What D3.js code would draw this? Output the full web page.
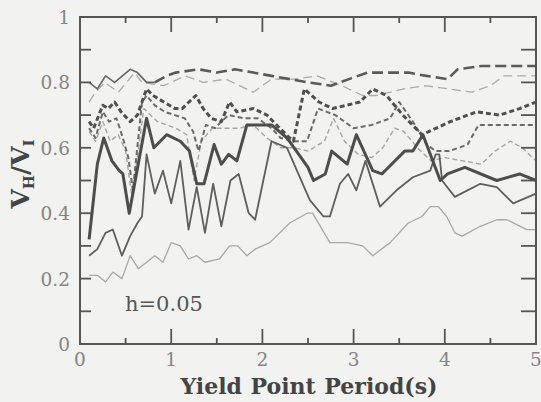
<!DOCTYPE html>
<html>
<head>
<meta charset="utf-8">
<script src="https://cdn.jsdelivr.net/npm/d3@7"></script>
<style>
  html, body { margin: 0; padding: 0; background: #f2f2f1; }
  svg { display: block; }
  svg text { font-family: 'DejaVu Serif', 'Liberation Serif', 'Times New Roman', serif; }
</style>
</head>
<body>
<svg id="chart" width="541" height="402"></svg>
<script>
// [period (s), VH/VI]
var thickSolid = [[0.1,0.32],[0.19,0.55],[0.26,0.63],[0.35,0.56],[0.43,0.53],[0.47,0.52],[0.54,0.40],[0.73,0.69],[0.81,0.60],[0.95,0.64],[1.1,0.62],[1.2,0.59],[1.28,0.49],[1.36,0.49],[1.47,0.61],[1.55,0.55],[1.63,0.58],[1.72,0.56],[1.83,0.67],[2.1,0.67],[2.27,0.63],[2.5,0.54],[2.56,0.50],[2.69,0.52],[2.76,0.59],[2.93,0.55],[3.03,0.64],[3.21,0.53],[3.31,0.52],[3.56,0.59],[3.65,0.59],[3.76,0.64],[3.95,0.50],[4.03,0.52],[4.22,0.54],[4.57,0.50],[4.82,0.52],[5.0,0.50]];
var thinSolid = [[0.1,0.27],[0.19,0.29],[0.28,0.34],[0.36,0.35],[0.46,0.27],[0.55,0.33],[0.63,0.37],[0.68,0.39],[0.73,0.58],[0.82,0.46],[0.91,0.53],[1.0,0.43],[1.1,0.56],[1.19,0.35],[1.28,0.48],[1.37,0.34],[1.46,0.49],[1.55,0.36],[1.65,0.50],[1.74,0.52],[1.85,0.40],[1.92,0.38],[2.1,0.62],[2.27,0.60],[2.52,0.44],[2.67,0.39],[2.74,0.39],[2.85,0.49],[2.94,0.52],[3.03,0.47],[3.13,0.56],[3.29,0.42],[3.47,0.47],[3.65,0.51],[3.84,0.53],[3.9,0.58],[3.94,0.58],[3.97,0.50],[4.11,0.45],[4.39,0.49],[4.57,0.48],[4.75,0.43],[5.0,0.46]];
var lightSolid = [[0.1,0.21],[0.19,0.21],[0.28,0.19],[0.36,0.22],[0.46,0.20],[0.55,0.27],[0.64,0.23],[0.73,0.25],[0.82,0.27],[0.91,0.25],[1.0,0.31],[1.1,0.30],[1.19,0.26],[1.28,0.27],[1.37,0.25],[1.53,0.26],[1.64,0.30],[1.73,0.30],[1.83,0.27],[1.92,0.29],[2.08,0.31],[2.3,0.37],[2.49,0.40],[2.55,0.40],[2.74,0.31],[2.93,0.31],[3.1,0.30],[3.21,0.27],[3.4,0.31],[3.6,0.37],[3.75,0.39],[3.84,0.42],[3.93,0.42],[4.02,0.39],[4.11,0.34],[4.19,0.33],[4.39,0.36],[4.57,0.38],[4.68,0.38],[4.9,0.35],[5.0,0.35]];
var topThin = [[0.1,0.80],[0.19,0.78],[0.28,0.82],[0.38,0.80],[0.55,0.84],[0.63,0.83],[0.73,0.80],[0.82,0.80]];
var thickLongDash = [[0.82,0.80],[0.95,0.82],[1.05,0.83],[1.3,0.84],[1.5,0.83],[1.7,0.84],[1.9,0.83],[2.1,0.82],[2.3,0.81],[2.5,0.80],[2.75,0.79],[2.95,0.81],[3.15,0.83],[3.4,0.83],[3.6,0.83],[3.8,0.82],[4.03,0.81],[4.14,0.84],[4.4,0.85],[5.0,0.85]];
var lightLongDash = [[0.1,0.74],[0.17,0.77],[0.27,0.80],[0.42,0.77],[0.6,0.83],[0.68,0.80],[0.92,0.79],[1.15,0.82],[1.35,0.80],[1.6,0.81],[1.9,0.77],[2.1,0.81],[2.35,0.81],[2.6,0.82],[2.87,0.79],[3.1,0.76],[3.25,0.76],[3.55,0.78],[3.78,0.79],[4.05,0.78],[4.3,0.77],[4.5,0.79],[4.65,0.82],[5.0,0.82]];
var thickShortDash = [[0.1,0.68],[0.15,0.66],[0.25,0.73],[0.31,0.72],[0.38,0.74],[0.45,0.71],[0.55,0.68],[0.63,0.70],[0.73,0.78],[0.8,0.76],[1.04,0.72],[1.12,0.72],[1.27,0.76],[1.35,0.72],[1.44,0.69],[1.55,0.68],[1.64,0.74],[1.72,0.71],[1.9,0.72],[2.05,0.70],[2.19,0.66],[2.3,0.63],[2.34,0.62],[2.46,0.78],[2.62,0.74],[2.77,0.72],[3.07,0.74],[3.21,0.78],[3.36,0.76],[3.54,0.70],[3.75,0.64],[4.06,0.68],[4.35,0.71],[4.6,0.70],[4.82,0.72],[5.0,0.74]];
var midShortDash = [[0.1,0.66],[0.17,0.63],[0.25,0.71],[0.32,0.68],[0.4,0.69],[0.47,0.63],[0.53,0.57],[0.58,0.47],[0.68,0.74],[0.73,0.76],[0.82,0.73],[0.93,0.71],[1.15,0.69],[1.24,0.65],[1.3,0.59],[1.38,0.67],[1.48,0.66],[1.55,0.68],[1.63,0.70],[1.8,0.69],[1.95,0.69],[2.1,0.66],[2.2,0.63],[2.35,0.62],[2.49,0.62],[2.61,0.72],[2.8,0.70],[3.0,0.66],[3.2,0.67],[3.4,0.69],[3.5,0.74],[3.65,0.68],[3.8,0.61],[3.9,0.59],[4.05,0.59],[4.25,0.61],[4.37,0.67],[4.6,0.67],[5.0,0.67]];
var lightShortDash = [[0.1,0.65],[0.17,0.62],[0.25,0.68],[0.33,0.62],[0.42,0.64],[0.5,0.59],[0.57,0.45],[0.7,0.72],[0.85,0.68],[1.05,0.66],[1.17,0.64],[1.25,0.50],[1.33,0.62],[1.45,0.66],[1.6,0.66],[1.75,0.66],[1.9,0.67],[2.05,0.63],[2.2,0.60],[2.35,0.60],[2.5,0.59],[2.68,0.62],[2.78,0.69],[2.9,0.62],[3.05,0.58],[3.2,0.57],[3.32,0.60],[3.45,0.66],[3.55,0.65],[3.7,0.60],[3.85,0.56],[4.0,0.57],[4.2,0.56],[4.4,0.55],[4.55,0.59],[4.72,0.62],[4.85,0.60],[5.0,0.56]];

var xMajor = [0, 1, 2, 3, 4, 5];
var xMinor = [0.5, 1.5, 2.5, 3.5, 4.5];
var yTickLabels = ['0', '0.2', '0.4', '0.6', '0.8', '1'];
var yTicks = [0.1, 0.2, 0.3, 0.4, 0.5, 0.6, 0.7, 0.8, 0.9];

var seriesList = [
    { data: lightSolid, color: '#a8a8a8', width: 1.3, dash: null },
    { data: lightLongDash, color: '#ababab', width: 1.3, dash: '9,5' },
    { data: lightShortDash, color: '#a6a6a6', width: 1.4, dash: '5,3' },
    { data: thinSolid, color: '#5e5e5e', width: 1.8, dash: null },
    { data: topThin, color: '#666', width: 1.6, dash: null },
    { data: midShortDash, color: '#6a6a6a', width: 2, dash: '5,3' },
    { data: thickLongDash, color: '#5a5a5a', width: 2.6, dash: '11,5' },
    { data: thickShortDash, color: '#4f4f4f', width: 3, dash: '5,3' },
    { data: thickSolid, color: '#4d4d4d', width: 3, dash: null }
];

var margin = { left: 80, top: 17, right: 5, bottom: 58 };
var width = 541, height = 402;
var svg = d3.select('#chart');

var x = d3.scaleLinear().domain([0, 5]).range([margin.left, width - margin.right]);
var y = d3.scaleLinear().domain([0, 1]).range([height - margin.bottom, margin.top]);

var line = d3.line()
    .x(function(d) { return x(d[0]); })
    .y(function(d) { return y(d[1]); });

var plot = svg.append('g');
seriesList.forEach(function(s) {
    plot.append('path')
        .datum(s.data)
        .attr('d', line)
        .attr('fill', 'none')
        .attr('stroke', s.color)
        .attr('stroke-width', s.width)
        .attr('stroke-linejoin', 'round')
        .attr('stroke-dasharray', s.dash);
});

// frame + inward ticks
var axisColor = '#555';
svg.append('rect')
    .attr('x', x(0)).attr('y', y(1))
    .attr('width', x(5) - x(0)).attr('height', y(0) - y(1))
    .attr('fill', 'none').attr('stroke', axisColor).attr('stroke-width', 2);

var ticks = svg.append('g').attr('stroke', axisColor).attr('stroke-width', 1.8);
function xTicks(vals, len) {
    vals.forEach(function(v) {
        ticks.append('line').attr('x1', x(v)).attr('x2', x(v)).attr('y1', y(0)).attr('y2', y(0) - len);
        ticks.append('line').attr('x1', x(v)).attr('x2', x(v)).attr('y1', y(1)).attr('y2', y(1) + len);
    });
}
xTicks(xMajor.slice(1, 5), 15);
xTicks(xMinor, 6);
yTicks.forEach(function(v) {
    ticks.append('line').attr('x1', x(0)).attr('x2', x(0) + 11).attr('y1', y(v)).attr('y2', y(v));
    ticks.append('line').attr('x1', x(5)).attr('x2', x(5) - 15).attr('y1', y(v)).attr('y2', y(v));
});

// tick labels
var labelColor = '#858585';
svg.append('g').selectAll('text')
    .data(xMajor)
    .enter().append('text')
    .attr('x', function(d) { return x(d); })
    .attr('y', y(0) + 22)
    .attr('text-anchor', 'middle')
    .attr('font-size', 18.5)
    .attr('fill', labelColor)
    .text(function(d) { return d; });

svg.append('g').selectAll('text')
    .data(yTickLabels)
    .enter().append('text')
    .attr('x', x(0) - 10)
    .attr('y', function(d) { return y(+d) + 7; })
    .attr('text-anchor', 'end')
    .attr('font-size', 18.5)
    .attr('fill', labelColor)
    .text(function(d) { return d; });

// axis titles
svg.append('text')
    .attr('x', 309).attr('y', 394)
    .attr('text-anchor', 'middle')
    .attr('font-size', 22).attr('font-weight', 'bold')
    .attr('word-spacing', 1)
    .attr('fill', '#444')
    .text('Yield Point Period(s)');

var yTitle = svg.append('text')
    .attr('transform', 'translate(29,' + 174 + ') rotate(-90)')
    .attr('text-anchor', 'middle')
    .attr('font-size', 25).attr('font-weight', 'bold')
    .attr('fill', '#444');
yTitle.append('tspan').text('V');
yTitle.append('tspan').attr('font-size', 15).attr('dy', 5).text('H');
yTitle.append('tspan').attr('dy', -5).text('/V');
yTitle.append('tspan').attr('font-size', 15).attr('dy', 5).text('I');

svg.append('text')
    .attr('x', 125).attr('y', 311)
    .attr('font-size', 21)
    .attr('fill', '#555')
    .text('h=0.05');
</script>
</body>
</html>
